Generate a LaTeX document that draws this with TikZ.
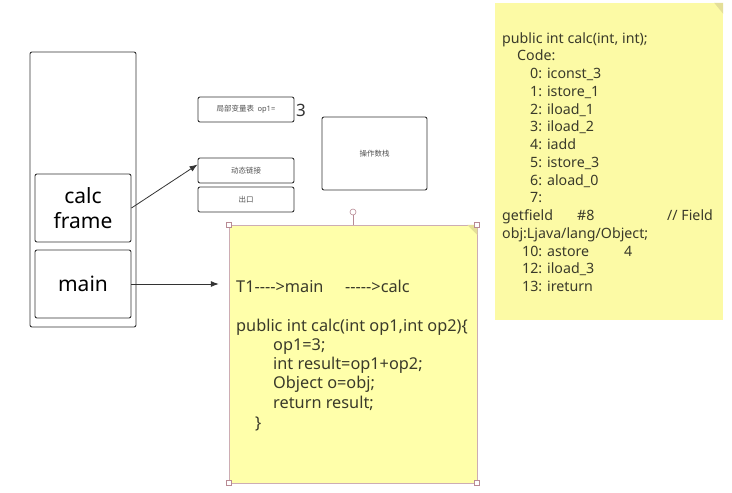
\documentclass[tikz,border=0pt]{standalone}
\usepackage{fontspec}
\setmainfont{Noto Sans}[Ligatures=TeXOff]
\newfontfamily\cjk{Noto Sans CJK SC}
\usetikzlibrary{arrows.meta}
\definecolor{ink}{HTML}{333333}
\definecolor{notey}{HTML}{FFFFAA}
\definecolor{noteb}{HTML}{FCFAA5}
\definecolor{fold}{HTML}{E4DF98}
\definecolor{hand}{HTML}{B88A94}
\definecolor{txt}{HTML}{3A3A2A}
\begin{document}
\begin{tikzpicture}[x=1pt,y=-1pt,
 box/.style={draw=ink, line width=0.9pt, rounded corners=2pt, inner sep=0pt},
 small/.style={box, minimum width=96pt, minimum height=25pt, text=ink!85, font=\cjk\fontsize{7.5}{8}\selectfont},
 big/.style={box, minimum width=96pt, minimum height=68pt, font=\fontsize{21}{25}\selectfont, align=center},
 conn/.style={draw=ink, line width=0.8pt, -{Latex[length=8pt,width=6pt]}},
 ln1/.style={anchor=base west, inner sep=0pt, text=txt, font=\fontsize{16.3}{18}\selectfont},
 ln2/.style={anchor=base west, inner sep=0pt, text=txt, font=\fontsize{14.2}{16}\selectfont},
 handle/.style={draw=hand, fill=white, line width=0.6pt, minimum size=5pt, inner sep=0pt}
]
\useasboundingbox (0,0) rectangle (732,493);
\fill[white] (0,0) rectangle (732,493);

% stack
\node[box, minimum width=106pt, minimum height=275pt] (stack) at (83,189.5) {};
\node[big] (calc) at (83,208) {calc\\frame};
\node[big] (main) at (83,284) {main};

% frame parts
\node[small] (lvt) at (246,109.5) {局部变量表\ \ {\rmfamily op1=}};
\node[anchor=west, inner sep=0pt, font=\fontsize{17}{18}\selectfont, text=ink] (three) at (296,110) {3};
\node[small] (dyn) at (246,170.5) {动态链接};
\node[small] (exit) at (246,199.5) {出口};
\node[box, minimum width=105pt, minimum height=73pt, text=ink!85, font=\cjk\fontsize{7.5}{8}\selectfont] (ops) at (374.5,153.5) {操作数栈};

% note 1
\node[draw=hand!70, line width=0.5pt, fill=notey, minimum width=248pt, minimum height=258pt, inner sep=0pt] (note1) at (353,354) {};
\fill[fold] ([xshift=-10pt]note1.north east) -- (note1.north east) -- ([yshift=-10pt]note1.north east) -- cycle;
\coordinate (hk) at (353,212);
\draw[hand, line width=0.6pt] (note1.north) -- (hk);
\draw[hand, fill=white, line width=0.6pt] (hk) circle (3pt);
\node[handle] (h1) at (note1.north west) {};
\node[handle] (h2) at (note1.north east) {};
\node[handle] (h3) at (note1.south west) {};
\node[handle] (h4) at (note1.south east) {};

\node[ln1] (a1) at (236,292) {T1---->main};
\node[ln1] (a2) at (345,292) {----->calc};
\node[ln1] (a3) at (236,331) {public int calc(int op1,int op2)\{};
\node[ln1] (a4) at (273,350) {op1=3;};
\node[ln1] (a5) at (273,369) {int result=op1+op2;};
\node[ln1] (a6) at (273,388) {Object o=obj;};
\node[ln1] (a7) at (273,408) {return result;};
\node[ln1] (a8) at (255,428) {\}};

% note 2
\node[fill=noteb, minimum width=228pt, minimum height=317pt, inner sep=0pt] (note2) at (609,161.5) {};
\fill[fold] ([xshift=-9pt]note2.north east) -- (note2.north east) -- ([yshift=-11pt]note2.north east) -- cycle;

\node[ln2] (b0) at (502,43) {public int calc(int, int);};
\node[ln2] (b1) at (517,60.75) {Code:};
\node[ln2] (b2) at (530,78.5) {0: iconst\_3};
\node[ln2] (b3) at (530,96.25) {1: istore\_1};
\node[ln2] (b4) at (530,114) {2: iload\_1};
\node[ln2] (b5) at (530,131.75) {3: iload\_2};
\node[ln2] (b6) at (530,149.5) {4: iadd};
\node[ln2] (b7) at (530,167.25) {5: istore\_3};
\node[ln2] (b8) at (530,185) {6: aload\_0};
\node[ln2] (b9) at (530,202.75) {7:};
\node[ln2] (b10) at (502,220.5) {getfield};
\node[ln2] (b10b) at (577,220.5) {\#8};
\node[ln2] (b10c) at (667,220.5) {// Field};
\node[ln2] (b11) at (502,238.25) {obj:Ljava/lang/Object;};
\node[ln2] (b12) at (522,256) {10: astore};
\node[ln2] (b12b) at (624,256) {4};
\node[ln2] (b13) at (522,273.75) {12: iload\_3};
\node[ln2] (b14) at (522,291.5) {13: ireturn};

% connectors
\draw[conn] (calc.east) -- ([yshift=6pt]dyn.west);
\draw[conn] (main.east) -- ([xshift=-10pt]note1.west |- main.east);
\end{tikzpicture}
\end{document}
